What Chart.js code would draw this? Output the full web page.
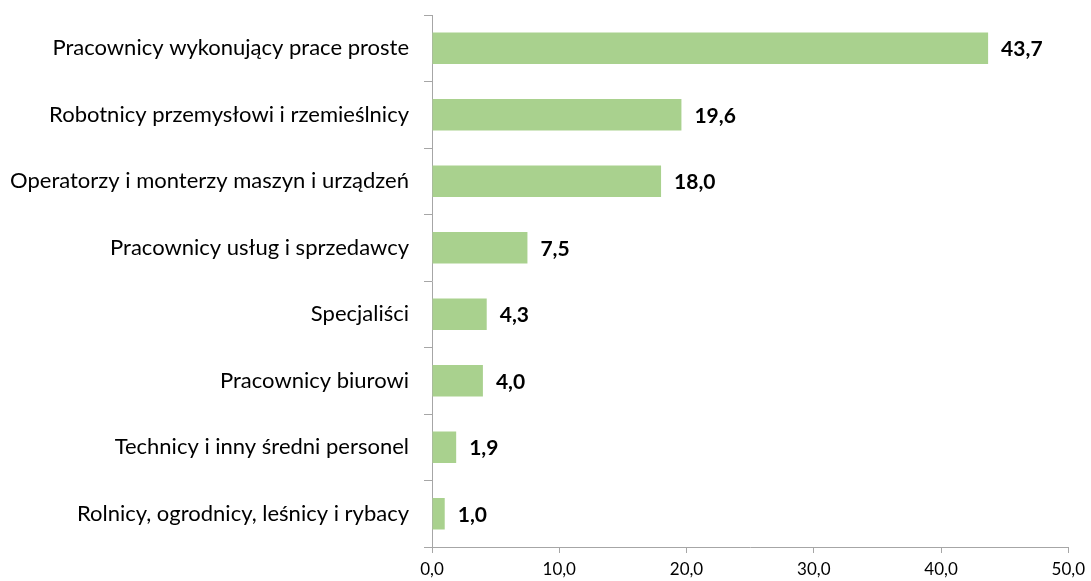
<!DOCTYPE html>
<html>
<head>
<meta charset="utf-8">
<style>
  html, body { margin: 0; padding: 0; background: #fff; }
  #wrap { width: 1091px; height: 581px; position: relative; }
</style>
<script src="https://cdn.jsdelivr.net/npm/chart.js@4.4.0/dist/chart.umd.min.js"></script>
</head>
<body>
<div id="wrap"><canvas id="chart"></canvas></div>
<script>
  const categories = [
    'Pracownicy wykonujący prace proste',
    'Robotnicy przemysłowi i rzemieślnicy',
    'Operatorzy i monterzy maszyn i urządzeń',
    'Pracownicy usług i sprzedawcy',
    'Specjaliści',
    'Pracownicy biurowi',
    'Technicy i inny średni personel',
    'Rolnicy, ogrodnicy, leśnicy i rybacy'
  ];
  const values = [43.7, 19.6, 18.0, 7.5, 4.3, 4.0, 1.9, 1.0];
  const xTicks = [0, 10, 20, 30, 40, 50];

  const fmt = v => v.toFixed(1).replace('.', ',');
  const FONT = 'Lato, "Open Sans", sans-serif';

  // etykiety wartości za słupkami
  const valueLabels = {
    id: 'valueLabels',
    afterDatasetsDraw(chart) {
      const ctx = chart.ctx;
      const meta = chart.getDatasetMeta(0);
      ctx.save();
      ctx.font = 'bold 21px ' + FONT;
      ctx.fillStyle = '#000';
      ctx.textAlign = 'left';
      ctx.textBaseline = 'middle';
      meta.data.forEach((bar, i) => {
        ctx.fillText(fmt(values[i]), bar.x + 13, bar.y + 1);
      });
      ctx.restore();
    }
  };

  new Chart(document.getElementById('chart'), {
    type: 'bar',
    data: {
      labels: categories,
      datasets: [{
        data: values,
        backgroundColor: '#a9d18e',
        borderWidth: 0,
        categoryPercentage: 1,
        barPercentage: 0.47
      }]
    },
    options: {
      indexAxis: 'y',
      responsive: true,
      maintainAspectRatio: false,
      animation: false,
      layout: { padding: { top: 15, right: 22, left: 0, bottom: 0 } },
      plugins: { legend: { display: false }, tooltip: { enabled: false } },
      scales: {
        x: {
          min: 0,
          max: 50,
          afterBuildTicks: axis => { axis.ticks = xTicks.map(v => ({ value: v })); },
          afterFit: axis => { axis.height = 34; },
          border: { color: '#a6a6a6', width: 1 },
          grid: { drawOnChartArea: false, tickLength: 6, color: '#a6a6a6' },
          ticks: {
            padding: 6,
            color: '#000',
            font: { family: FONT, size: 17 },
            callback: v => fmt(v)
          }
        },
        y: {
          afterFit: axis => {
            axis.width = 432;
            axis.paddingTop = 0;
            axis.paddingBottom = 0;
          },
          border: { color: '#a6a6a6', width: 1 },
          grid: { drawOnChartArea: false, tickLength: 8, offset: true, color: '#a6a6a6' },
          ticks: {
            padding: 15,
            color: '#000',
            font: { family: FONT, size: 22 }
          }
        }
      }
    },
    plugins: [valueLabels]
  });
</script>
</body>
</html>
